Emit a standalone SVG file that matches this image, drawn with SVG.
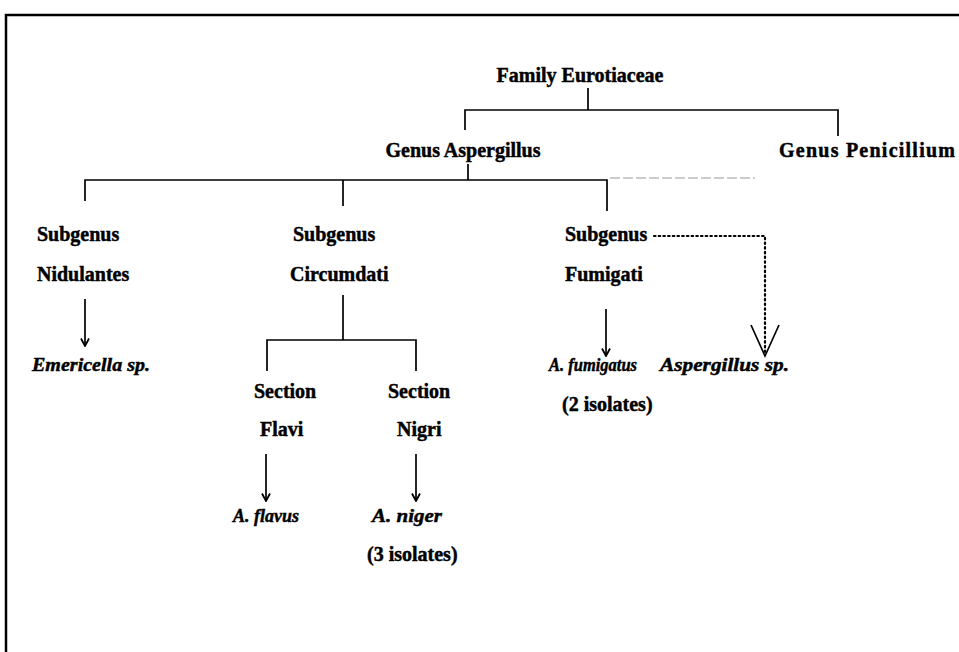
<svg xmlns="http://www.w3.org/2000/svg" width="959" height="652" viewBox="0 0 959 652">
<defs>
<style>
.t{font-family:"Liberation Serif","Times New Roman",serif;font-weight:bold;font-size:20px;fill:#000;stroke:#000;stroke-width:0.45;}
.i{font-style:italic;font-size:19px;}
.m{text-anchor:middle;}
.ln{stroke:#000;stroke-width:1.7;fill:none;}
.dot{stroke:#000;stroke-width:2.2;fill:none;stroke-dasharray:1.5 3.2;stroke-linecap:round;}
.faint{stroke:#999;stroke-width:1;fill:none;stroke-dasharray:10 3;}
</style>
<marker id="ah" viewBox="0 0 10 10" refX="9.5" refY="5" markerWidth="10" markerHeight="10" markerUnits="userSpaceOnUse" orient="auto">
<path d="M2,1 L9.5,5 L2,9" stroke="#000" stroke-width="1.8" fill="none"/>
</marker>
</defs>
<rect width="959" height="652" fill="#fff"/>
<path d="M6,652 V15 H959" stroke="#000" stroke-width="2.5" fill="none"/>

<g id="connectors">
<path class="ln" d="M588,88 V110 M465,130 V110 H838 V136"/>
<path class="ln" d="M468,164 V180 M85,201 V180 H607 V211 M343,180 V206"/>
<path class="faint" d="M610,178 H755"/>
<path class="ln" d="M85,299 V346" marker-end="url(#ah)"/>
<path class="ln" d="M343,295 V340 M267,371 V340 H416 V371"/>
<path class="ln" d="M266,454 V501" marker-end="url(#ah)"/>
<path class="ln" d="M416,454 V501" marker-end="url(#ah)"/>
<path class="ln" d="M606,309 V356" marker-end="url(#ah)"/>
<path class="dot" d="M654,236 H765 V352"/>
<path class="ln" stroke-width="2.4" d="M751,325 L765,356 L779,325"/>
</g>

<g id="family"><text class="t m" x="580" y="82">Family Eurotiaceae</text></g>
<g id="genus-aspergillus"><text class="t m" x="463" y="157">Genus Aspergillus</text></g>
<g id="genus-penicillium"><text class="t" x="779" y="157" textLength="176" lengthAdjust="spacing">Genus  Penicillium</text></g>
<g id="subgenus-nidulantes"><text class="t" x="37" y="241">Subgenus</text><text class="t" x="37" y="281">Nidulantes</text></g>
<g id="subgenus-circumdati"><text class="t" x="293" y="241">Subgenus</text><text class="t" x="290" y="281">Circumdati</text></g>
<g id="subgenus-fumigati"><text class="t" x="565" y="241">Subgenus</text><text class="t" x="565" y="281">Fumigati</text></g>
<g id="emericella"><text class="t i" x="32" y="371" textLength="118" lengthAdjust="spacingAndGlyphs">Emericella sp.</text></g>
<g id="section-flavi"><text class="t" x="254" y="398">Section</text><text class="t" x="260" y="436">Flavi</text></g>
<g id="section-nigri"><text class="t" x="388" y="398">Section</text><text class="t" x="397" y="436">Nigri</text></g>
<g id="a-flavus"><text class="t i" x="233" y="522" textLength="66" lengthAdjust="spacingAndGlyphs">A. flavus</text></g>
<g id="a-niger"><text class="t i" x="372" y="522" textLength="70" lengthAdjust="spacingAndGlyphs">A. niger</text><text class="t" x="367" y="561">(3 isolates)</text></g>
<g id="a-fumigatus"><text class="t i" x="549" y="371" textLength="88" lengthAdjust="spacingAndGlyphs">A. fumigatus</text><text class="t" x="562" y="411">(2 isolates)</text></g>
<g id="aspergillus-sp"><text class="t i" x="660" y="371" textLength="129" lengthAdjust="spacingAndGlyphs">Aspergillus sp.</text></g>
</svg>
